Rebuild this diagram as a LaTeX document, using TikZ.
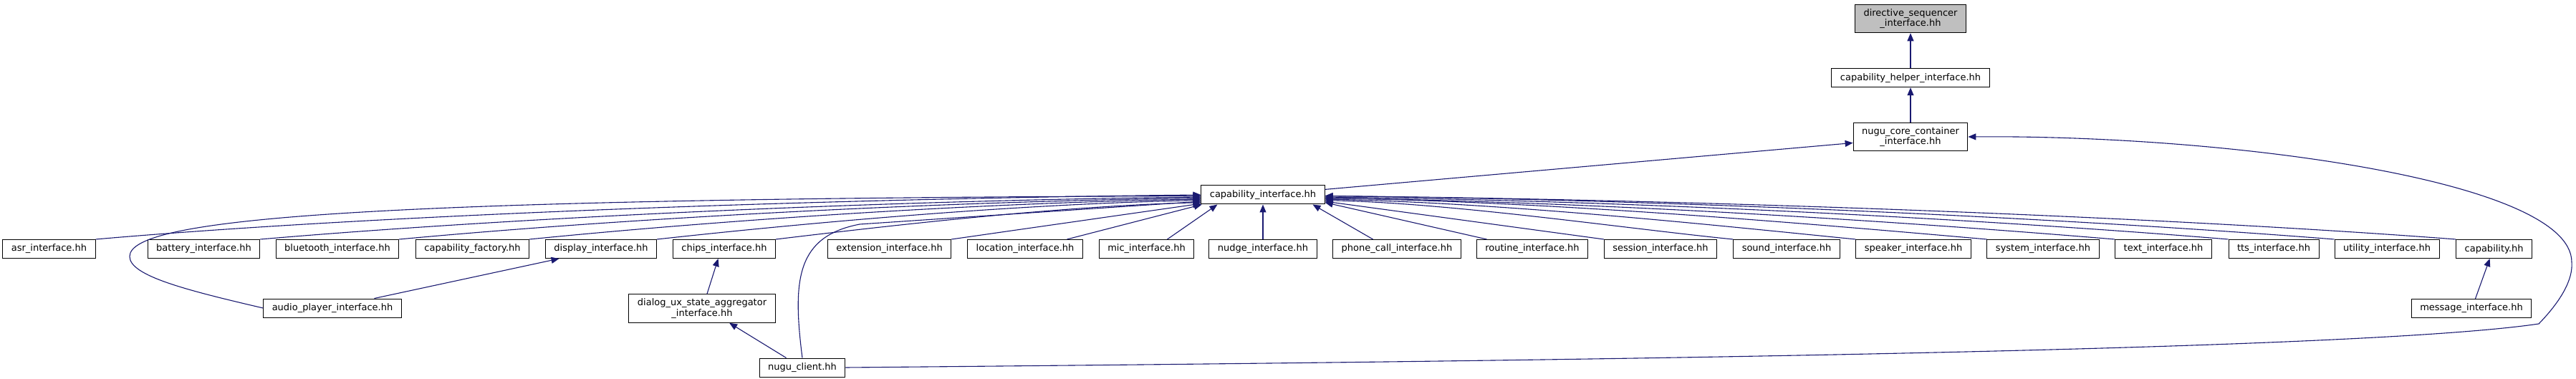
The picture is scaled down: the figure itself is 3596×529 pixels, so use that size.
\documentclass[tikz,border=0pt]{standalone}
\usepackage{fontspec}
\setmainfont{DejaVu Sans}
\usetikzlibrary{arrows.meta}
\definecolor{edgeblue}{RGB}{25,25,112}
\definecolor{rootgray}{RGB}{191,191,191}

\begin{document}
\begin{tikzpicture}[
    x=1pt, y=1pt,
    file/.style={rectangle, draw=black, line width=1pt, fill=white, inner xsep=12pt, inner ysep=6pt, minimum height=26pt, align=center, font=\fontsize{13}{14.6}\selectfont},
    root/.style={file, fill=rootgray},
    edge/.style={-{Triangle[length=11pt, width=9pt]}, draw=edgeblue, line width=1.1pt}
]
\useasboundingbox (0,0) rectangle (3596,-529);

\node[root] (dsi) at (2667,-26) {directive\_sequencer\\\_interface.hh};
\node[file] (chi) at (2667,-108.7) {capability\_helper\_interface.hh};
\node[file] (ncci) at (2667,-191) {nugu\_core\_container\\\_interface.hh};
\node[file] (capi) at (1763,-272) {capability\_interface.hh};

\node[file] (asr) at (68.5,-347.5) {asr\_interface.hh};
\node[file] (battery) at (284.5,-347.5) {battery\_interface.hh};
\node[file] (bluetooth) at (471,-347.5) {bluetooth\_interface.hh};
\node[file] (capfac) at (659.5,-347.5) {capability\_factory.hh};
\node[file] (display) at (839,-347.5) {display\_interface.hh};
\node[file] (chips) at (1011,-347.5) {chips\_interface.hh};
\node[file] (extension) at (1241.5,-347.5) {extension\_interface.hh};
\node[file] (location) at (1431,-347.5) {location\_interface.hh};
\node[file] (mic) at (1600.5,-347.5) {mic\_interface.hh};
\node[file] (nudge) at (1763,-347.5) {nudge\_interface.hh};
\node[file] (phone) at (1950,-347.5) {phone\_call\_interface.hh};
\node[file] (routine) at (2139,-347.5) {routine\_interface.hh};
\node[file] (session) at (2318,-347.5) {session\_interface.hh};
\node[file] (sound) at (2494,-347.5) {sound\_interface.hh};
\node[file] (speaker) at (2671,-347.5) {speaker\_interface.hh};
\node[file] (system) at (2852,-347.5) {system\_interface.hh};
\node[file] (text) at (3020,-347.5) {text\_interface.hh};
\node[file] (tts) at (3174,-347.5) {tts\_interface.hh};
\node[file] (utility) at (3332,-347.5) {utility\_interface.hh};
\node[file] (caph) at (3481.6,-347.5) {capability.hh};

\node[file] (audio) at (464,-430) {audio\_player\_interface.hh};
\node[file] (dialog) at (980,-430.5) {dialog\_ux\_state\_aggregator\\\_interface.hh};
\node[file] (msg) at (3450,-430.5) {message\_interface.hh};
\node[file] (nclient) at (1120,-513) {nugu\_client.hh};

\draw[edge] (chi.north) -- (dsi.south);
\draw[edge] (ncci.north) -- (chi.south);
\draw[edge] (capi.5) -- (ncci.186);
\draw[edge] (nclient.east) .. controls (2300,-503) and (3300,-488) .. (3544,-452) .. controls (3575,-420) and (3592,-390) .. (3590,-366) .. controls (3590,-250) and (3100,-188) .. (ncci.east);

\draw[edge] (asr.north east) .. controls +(400,35) and +(-500,-5) .. (capi.180.5);
\draw[edge] (audio.west) .. controls (260,-405) and (181,-385) .. (181,-358) .. controls (181,-305) and (500,-277) .. (capi.181.5);
\draw[edge] (battery.north east) .. controls +(350,30) and +(-450,-5) .. (capi.182);
\draw[edge] (bluetooth.north east) .. controls +(300,28) and +(-380,-5) .. (capi.183);
\draw[edge] (capfac.north east) .. controls +(250,25) and +(-320,-5) .. (capi.184);
\draw[edge] (display.north east) .. controls +(200,22) and +(-260,-5) .. (capi.185);
\draw[edge] (nclient.north) .. controls (1106,-390) and (1112,-330) .. (1200,-313) -- (capi.186);
\draw[edge] (chips.north east) .. controls +(150,18) and +(-200,-5) .. (capi.187);
\draw[edge] (extension.north east) -- (capi.188.5);
\draw[edge] (location.13.5) -- (capi.189.5);
\draw[edge] (mic.25) -- (capi.192);
\draw[edge] (nudge.north) -- (capi.south);
\draw[edge] (phone.158) -- (capi.349);
\draw[edge] (routine.168) -- (capi.353);
\draw[edge] (session.north west) -- (capi.354);
\draw[edge] (sound.north west) .. controls +(-150,15) and +(180,-4) .. (capi.355);
\draw[edge] (speaker.north west) .. controls +(-200,20) and +(250,-5) .. (capi.356);
\draw[edge] (system.north west) .. controls +(-250,22) and +(320,-5) .. (capi.357);
\draw[edge] (text.north west) .. controls +(-300,25) and +(380,-5) .. (capi.357.5);
\draw[edge] (tts.north west) .. controls +(-340,28) and +(430,-5) .. (capi.358.5);
\draw[edge] (utility.north west) .. controls +(-380,30) and +(480,-5) .. (capi.359);
\draw[edge] (caph.north west) .. controls +(-420,32) and +(520,-5) .. (capi.359.5);

\draw[edge] (audio.13) -- (display.193);
\draw[edge] (dialog.71) -- (chips.238);
\draw[edge] (nclient.149) -- (dialog.332);
\draw[edge] (msg.68) -- (caph.246);
\end{tikzpicture}
\end{document}
